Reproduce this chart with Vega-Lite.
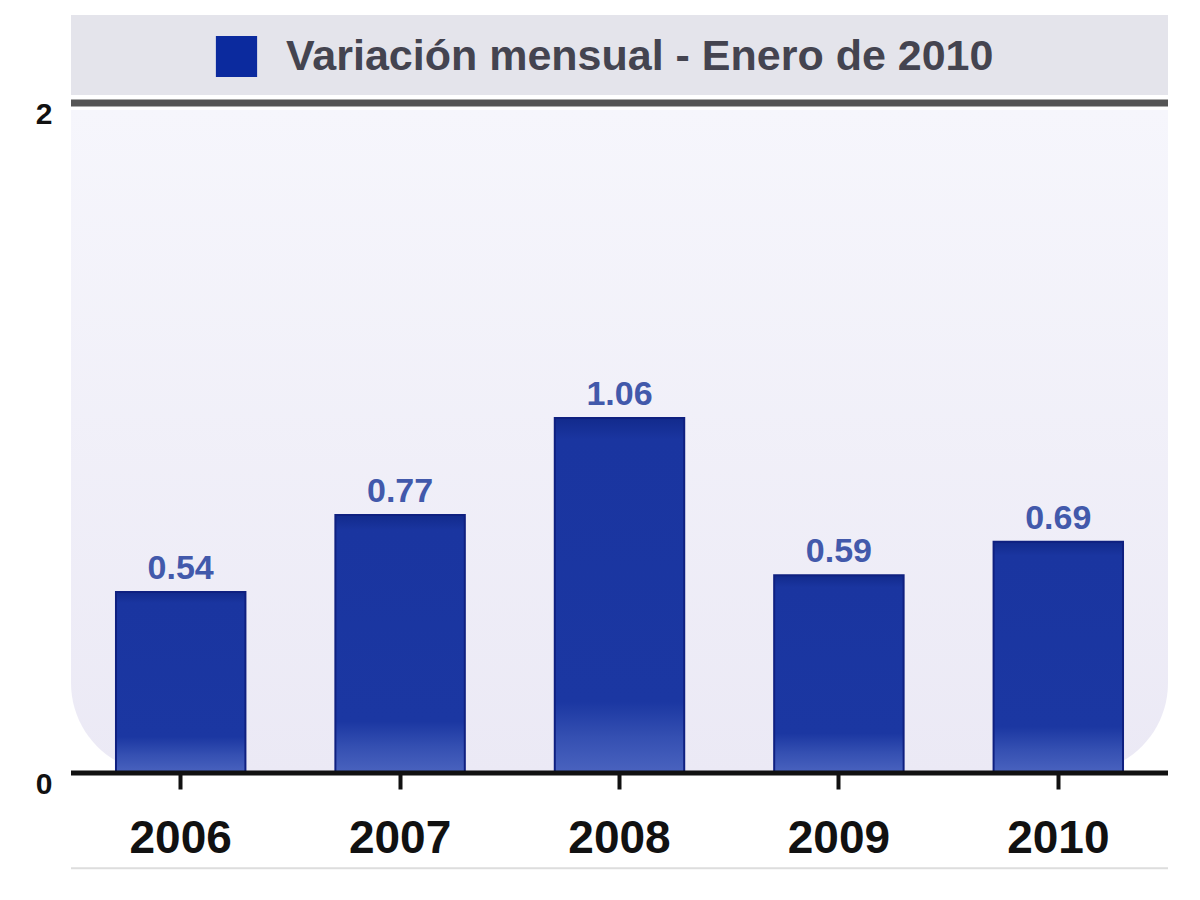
{
  "$schema": "https://vega.github.io/schema/vega-lite/v6.json",
  "autosize": "none",
  "width": 1097,
  "height": 670,
  "padding": {"left": 71, "top": 103, "right": 32, "bottom": 127},
  "background": "#ffffff",
  "config": {
    "font": "Liberation Sans",
    "view": {"stroke": null}
  },
  "data": {
    "values": [
      {"anio": "2006", "variacion": 0.54, "serie": "Variación mensual - Enero de 2010"},
      {"anio": "2007", "variacion": 0.77, "serie": "Variación mensual - Enero de 2010"},
      {"anio": "2008", "variacion": 1.06, "serie": "Variación mensual - Enero de 2010"},
      {"anio": "2009", "variacion": 0.59, "serie": "Variación mensual - Enero de 2010"},
      {"anio": "2010", "variacion": 0.69, "serie": "Variación mensual - Enero de 2010"}
    ]
  },
  "layer": [
    {
      "data": {"values": [{}]},
      "mark": {"type": "rect", "fill": "#e4e4eb"},
      "encoding": {
        "y": {"datum": 2.263, "type": "quantitative", "scale": {"domain": [0, 2], "nice": false}},
        "y2": {"datum": 2.024}
      }
    },
    {
      "data": {"values": [{}]},
      "mark": {
        "type": "rect",
        "cornerRadiusBottomLeft": 90,
        "cornerRadiusBottomRight": 90,
        "fill": {
          "gradient": "linear", "x1": 0, "y1": 0, "x2": 0, "y2": 1,
          "stops": [
            {"offset": 0, "color": "#f6f6fc"},
            {"offset": 1, "color": "#ebe9f5"}
          ]
        }
      },
      "encoding": {
        "y": {"datum": 1.979, "type": "quantitative"},
        "y2": {"datum": 0}
      }
    },
    {
      "data": {"values": [{}]},
      "mark": {"type": "rule", "stroke": "#dddddd", "strokeWidth": 2},
      "encoding": {"y": {"datum": -0.284, "type": "quantitative"}}
    },
    {
      "mark": {
        "type": "bar",
        "stroke": "#0f2080",
        "strokeWidth": 2,
        "fill": {
          "gradient": "linear", "x1": 0, "y1": 0, "x2": 0, "y2": 1,
          "stops": [
            {"offset": 0, "color": "#122a8c"},
            {"offset": 0.06, "color": "#1a35a0"},
            {"offset": 0.8, "color": "#1b37a2"},
            {"offset": 0.9, "color": "#3550b2"},
            {"offset": 1, "color": "#4a63bf"}
          ]
        }
      },
      "encoding": {
        "x": {
          "field": "anio",
          "type": "nominal",
          "title": null,
          "scale": {"paddingInner": 0.41, "paddingOuter": 0.205},
          "axis": {
            "domain": false,
            "labelAngle": 0,
            "labelFontSize": 46,
            "labelFontWeight": "bold",
            "labelColor": "#111111",
            "labelPadding": 27,
            "tickColor": "#111111",
            "tickWidth": 4,
            "tickSize": 16
          }
        },
        "y": {
          "field": "variacion",
          "type": "quantitative",
          "title": null,
          "axis": {
            "values": [0, 2],
            "format": "d",
            "grid": false,
            "domain": false,
            "ticks": false,
            "labelFontSize": 30,
            "labelFontWeight": "bold",
            "labelColor": "#111111",
            "labelPadding": 19,
            "labelOffset": 11
          }
        }
      }
    },
    {
      "mark": {"type": "point", "shape": "square", "opacity": 0},
      "encoding": {
        "x": {"field": "anio", "type": "nominal"},
        "y": {"field": "variacion", "type": "quantitative"},
        "fill": {
          "field": "serie",
          "type": "nominal",
          "scale": {"range": ["#0b2a9e"]},
          "legend": {
            "title": null,
            "orient": "none",
            "legendX": 144,
            "legendY": -68,
            "padding": 0,
            "symbolType": "square",
            "symbolSize": 1700,
            "symbolOpacity": 1,
            "symbolStrokeWidth": 0,
            "labelFontSize": 43,
            "labelFontWeight": "bold",
            "labelColor": "#444450",
            "labelOffset": 28,
            "labelLimit": 1000
          }
        }
      }
    },
    {
      "mark": {
        "type": "text",
        "baseline": "alphabetic",
        "dy": -13,
        "fontSize": 34,
        "fontWeight": "bold",
        "color": "#4259ab"
      },
      "encoding": {
        "x": {"field": "anio", "type": "nominal"},
        "y": {"field": "variacion", "type": "quantitative"},
        "text": {"field": "variacion", "type": "quantitative", "format": ".2f"}
      }
    },
    {
      "data": {"values": [{}]},
      "mark": {"type": "rule", "stroke": "#555555", "strokeWidth": 7},
      "encoding": {"y": {"datum": 2, "type": "quantitative"}}
    },
    {
      "data": {"values": [{}]},
      "mark": {"type": "rule", "stroke": "#111111", "strokeWidth": 5},
      "encoding": {"y": {"datum": 0, "type": "quantitative"}}
    }
  ]
}
